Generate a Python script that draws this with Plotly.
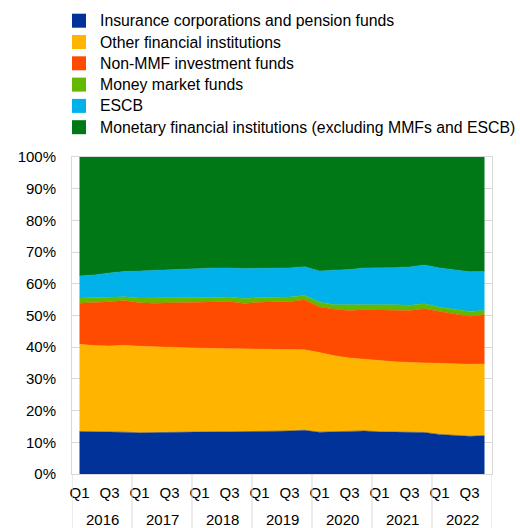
import plotly.graph_objects as go

quarters = [f"{y} Q{q}" for y in range(2016, 2023) for q in range(1, 5)]
years = ["2016", "2017", "2018", "2019", "2020", "2021", "2022"]
tick_labels = ["Q1", "Q3"] * 7

series_names = [
    "Insurance corporations and pension funds",
    "Other financial institutions",
    "Non-MMF investment funds",
    "Money market funds",
    "ESCB",
    "Monetary financial institutions (excluding MMFs and ESCB)",
]

insurance = [13.4, 13.4, 13.4, 13.2, 13.0, 13.1, 13.2, 13.3, 13.3, 13.3, 13.3, 13.3, 13.4, 13.5,
             13.6, 13.8, 13.2, 13.3, 13.4, 13.6, 13.3, 13.2, 13.1, 13.1, 12.5, 12.2, 11.9, 12.1]
other_fi = [27.5, 27.1, 27.0, 27.4, 27.3, 27.0, 26.8, 26.5, 26.4, 26.3, 26.3, 26.2, 26.0, 25.8,
            25.7, 25.4, 25.1, 24.0, 23.2, 22.6, 22.4, 22.2, 22.1, 21.9, 22.3, 22.5, 22.7, 22.6]
non_mmf = [13.0, 13.5, 13.9, 14.1, 13.7, 13.8, 14.0, 14.3, 14.4, 14.7, 14.8, 14.3, 14.8, 15.0,
           15.0, 15.8, 14.4, 14.7, 15.0, 15.6, 16.1, 16.3, 16.4, 17.1, 16.4, 15.8, 15.2, 15.5]
mmf = [1.6, 1.6, 1.4, 1.2, 1.5, 1.6, 1.6, 1.5, 1.4, 1.4, 1.4, 1.6, 1.5, 1.5,
       1.5, 1.3, 1.5, 1.4, 1.8, 1.7, 1.7, 1.7, 1.6, 1.6, 1.4, 1.4, 1.5, 1.4]
escb = [7.0, 7.2, 7.7, 8.0, 8.5, 8.7, 8.9, 9.2, 9.4, 9.3, 9.2, 9.4, 9.2, 9.2,
        9.2, 9.1, 9.8, 10.9, 11.1, 11.5, 11.5, 11.7, 12.1, 12.2, 12.4, 12.6, 12.5, 12.3]
mfi = [37.5, 37.2, 36.6, 36.1, 36.0, 35.8, 35.5, 35.2, 35.1, 35.0, 35.0, 35.2, 35.1, 35.0,
       35.0, 34.6, 36.0, 35.7, 35.5, 35.0, 35.0, 34.9, 34.7, 34.1, 35.0, 35.5, 36.2, 36.1]

colors = ["#003299", "#FFB400", "#FF4B00", "#65B800", "#00B1EA", "#007816"]
all_series = [insurance, other_fi, non_mmf, mmf, escb, mfi]

FONT = "Liberation Sans, Arial, sans-serif"
W, H = 520, 528
ML, MR, MT, MB = 72, 28, 157, 54
PW, PH = W - ML - MR, H - MT - MB

xs = list(range(len(quarters)))

fig = go.Figure()
for name, vals, col in zip(series_names, all_series, colors):
    fig.add_trace(go.Scatter(
        x=xs, y=vals, name=name, mode="lines", stackgroup="one", groupnorm="percent",
        line=dict(width=0.5, color=col), fillcolor=col, showlegend=False,
        hoverinfo="x+y+name",
    ))

def px_x(px):
    return (px - ML) / PW

def px_y(py):
    return (H - MB - py) / PH

shapes = []
annotations = []

# manual legend
leg_y0 = 20.7
leg_step = 21.3
for k, (name, col) in enumerate(zip(series_names, colors)):
    cy = leg_y0 + k * leg_step
    shapes.append(dict(type="rect", xref="paper", yref="paper",
                       x0=px_x(72), x1=px_x(86), y0=px_y(cy + 7), y1=px_y(cy - 7),
                       fillcolor=col, line=dict(width=0)))
    annotations.append(dict(text=name, xref="paper", yref="paper",
                            x=px_x(98), y=px_y(cy), xanchor="left", yanchor="middle",
                            showarrow=False, font=dict(family=FONT, size=15.8, color="#000000")))

# year separators and labels
for k in range(len(years) + 1):
    shapes.append(dict(type="line", xref="x", yref="paper",
                       x0=4 * k - 0.5, x1=4 * k - 0.5, y0=0, y1=px_y(H),
                       line=dict(color="#d9d9d9", width=1)))
for k, yr in enumerate(years):
    annotations.append(dict(text=yr, xref="x", yref="paper", x=4 * k + 1.5, y=px_y(519.5),
                            xanchor="center", yanchor="middle", showarrow=False,
                            font=dict(family=FONT, size=15, color="#000000")))

fig.update_layout(
    width=W, height=H,
    margin=dict(l=ML, r=MR, t=MT, b=MB),
    paper_bgcolor="white", plot_bgcolor="white",
    font=dict(family=FONT, size=15, color="#000000"),
    shapes=shapes, annotations=annotations,
    xaxis=dict(range=[-0.5, len(quarters) - 0.5], tickvals=xs[::2], ticktext=tick_labels,
               showgrid=False, zeroline=False, showline=True, linecolor="#d9d9d9",
               linewidth=1, mirror=True, ticks="outside", ticklen=5,
               tickcolor="rgba(0,0,0,0)", tickfont=dict(family=FONT, size=15)),
    yaxis=dict(range=[0, 100], dtick=10, ticksuffix="%", showgrid=True, gridcolor="#d9d9d9",
               zeroline=False, showline=True, linecolor="#d9d9d9", linewidth=1, mirror=True,
               ticks="outside", ticklen=12, tickcolor="rgba(0,0,0,0)",
               tickfont=dict(family=FONT, size=15)),
    hovermode="x unified",
)

fig.write_html("out.html")
